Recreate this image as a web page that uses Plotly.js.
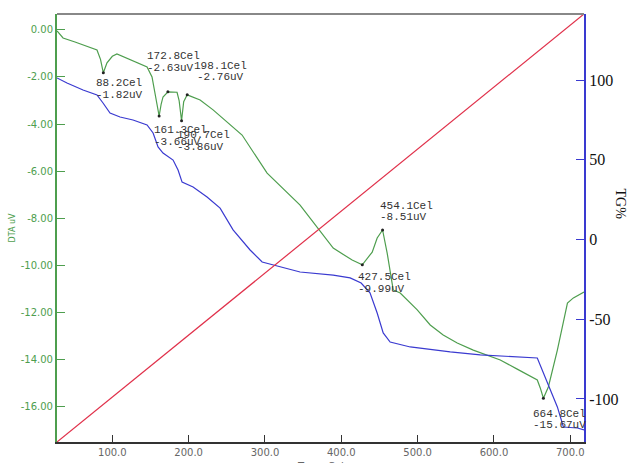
<!DOCTYPE html>
<html><head><meta charset="utf-8">
<script src="https://cdn.plot.ly/plotly-3.0.1.min.js"></script>
<style>html,body{margin:0;padding:0;background:#fff}#chart{width:627px;height:463px}</style>
</head><body><div id="chart"></div>
<script>
// DTA curve (green, left axis, uV)
const dtaTemp = [27.5, 35.4, 51.1, 70.8, 79.9, 84.5, 88.2, 93, 100, 106, 120.6, 145.5, 152, 157, 161.3, 164, 166.4, 172.8, 184.8, 187.5, 190.7, 193.5, 198.1, 215, 232, 270, 302.8, 346, 368.4, 389.4, 414.2, 427.5, 440.5, 447, 454.1, 460.1, 468, 477.2, 499.5, 516.5, 533.5, 551.9, 572.9, 595.2, 608.3, 630.5, 656.8, 660.7, 664.8, 671.3, 683.1, 696.3, 704.1, 718];
const dtaVal = [-0.04, -0.34, -0.51, -0.72, -0.85, -1.25, -1.82, -1.40, -1.12, -1.02, -1.23, -1.57, -2.0, -3.0, -3.66, -3.15, -2.85, -2.63, -2.65, -3.0, -3.86, -3.05, -2.76, -2.98, -3.40, -4.47, -6.09, -7.45, -8.38, -9.28, -9.79, -9.99, -9.45, -8.85, -8.51, -9.49, -11.06, -11.19, -11.91, -12.55, -12.98, -13.32, -13.62, -13.87, -14.04, -14.43, -14.89, -15.23, -15.67, -15.19, -13.62, -11.62, -11.40, -11.15];

// TG curve (blue, right axis, %)
const tgTemp = [27.5, 40.6, 61.6, 79.9, 87.8, 97, 110.1, 127.1, 145.5, 153.4, 159.9, 166.4, 179.6, 186.1, 191.4, 205.8, 224.1, 241.2, 258.2, 280.5, 296.3, 326.4, 346, 389.4, 411.6, 426, 437.6, 447, 454.9, 464, 490.3, 542.7, 582, 656.8, 670, 683.1, 691, 709.4, 718];
const tgVal = [101.3, 98.1, 93.7, 90.6, 85.6, 79.3, 76.8, 74.9, 71.8, 66.8, 58.0, 54.2, 49.8, 43.6, 36.0, 32.9, 26.6, 19.7, 6.0, -6.6, -14.1, -17.9, -20.4, -22.3, -24.1, -27.3, -33.5, -46.1, -58.6, -64.3, -67.4, -70.5, -72.4, -74.3, -90.0, -105.0, -117.6, -118.2, -119.4];

// Temperature ramp (red diagonal)
const rampX = [27.5, 718];
const rampY = [27.5, 718];

// Marked DTA peaks
const peakTemp = [88.2, 172.8, 198.1, 161.3, 190.7, 454.1, 427.5, 664.8];
const peakVal = [-1.82, -2.63, -2.76, -3.66, -3.86, -8.51, -9.99, -15.67];

// Tick labels
const tempTicks = [100, 200, 300, 400, 500, 600, 700];
const tempTickText = ["100.0", "200.0", "300.0", "400.0", "500.0", "600.0", "700.0"];
const dtaTicks = [0, -2, -4, -6, -8, -10, -12, -14, -16];
const dtaTickText = ["0.00", "-2.00", "-4.00", "-6.00", "-8.00", "-10.00", "-12.00", "-14.00", "-16.00"];
const tgTicks = [100, 50, 0, -50, -100];
const tgTickText = ["100", "50", "0", "-50", "-100"];

// label placement (pixel offsets: [xshift, yshift line1, yshift line2, extra x for line2])
const labelOffsets = [[-7, -10, -22, 0], [-21, 36, 24, 0], [7, 29, 18, 3], [-5, -14, -26, 0], [-5, -14, -26, 0], [-3, 24, 13, 0], [-4, -12, -24, 0], [-10, -16, -27, 0]];

const GREEN = '#4e9e4e', BLUE = '#3a3ad0', RED = '#e0304a';
const XR = [27.5, 718];

const traces = [
  {x: rampX, y: rampY, yaxis: 'y3', mode: 'lines', line: {color: RED, width: 1.2}, hoverinfo: 'skip'},
  {x: tgTemp, y: tgVal, yaxis: 'y2', mode: 'lines', line: {color: BLUE, width: 1.2}},
  {x: dtaTemp, y: dtaVal, mode: 'lines', line: {color: GREEN, width: 1.2}},
  {x: peakTemp, y: peakVal, mode: 'markers', marker: {color: '#222', size: 3}}
];

const annotations = [];
peakTemp.forEach((t, i) => {
  const o = labelOffsets[i];
  const f = {family: 'Liberation Mono, monospace', size: 11, color: '#333'};
  annotations.push({x: t, y: peakVal[i], xref: 'x', yref: 'y', text: t.toFixed(1) + 'Cel', showarrow: false,
    xanchor: 'left', yanchor: 'middle', xshift: o[0], yshift: o[1], font: f, borderpad: 0, borderwidth: 0});
  annotations.push({x: t, y: peakVal[i], xref: 'x', yref: 'y', text: peakVal[i].toFixed(2) + 'uV', showarrow: false,
    xanchor: 'left', yanchor: 'middle', xshift: o[0] + o[3], yshift: o[2], font: f, borderpad: 0, borderwidth: 0});
});
annotations.push({xref: 'paper', yref: 'paper', x: 1.07, y: 0.555, text: 'TG%', textangle: 90, showarrow: false,
  xanchor: 'center', yanchor: 'middle', font: {family: 'Liberation Serif, serif', size: 14, color: '#111'}});
annotations.push({xref: 'paper', yref: 'paper', x: 0.5, y: 0, text: 'Temp Cel', showarrow: false,
  xanchor: 'center', yanchor: 'top', yshift: -17, font: {family: 'DejaVu Sans, sans-serif', size: 10, color: '#666'}});

const layout = {
  width: 627, height: 463,
  margin: {l: 57, r: 43, t: 14, b: 21, pad: 0},
  paper_bgcolor: '#fff', plot_bgcolor: '#fff',
  showlegend: false,
  xaxis: {range: XR, tickvals: tempTicks, ticktext: tempTickText, ticks: 'inside', ticklen: 7, tickwidth: 1, tickcolor: '#333',
    showline: true, linecolor: '#333', linewidth: 2, showgrid: false, zeroline: false,
    tickfont: {family: 'DejaVu Sans, sans-serif', size: 10, color: '#666'}},
  yaxis: {range: [-17.53, 0.68], tickvals: dtaTicks, ticktext: dtaTickText, ticks: 'inside', ticklen: 8, tickwidth: 1, tickcolor: GREEN,
    showline: true, linecolor: GREEN, linewidth: 2, showgrid: false, zeroline: false,
    tickfont: {family: 'DejaVu Sans, sans-serif', size: 10, color: GREEN},
    title: {text: 'DTA uV', standoff: 4, font: {family: 'DejaVu Sans, sans-serif', size: 8, color: GREEN}}},
  yaxis2: {range: [-127, 141.4], overlaying: 'y', side: 'right', tickvals: tgTicks, ticktext: tgTickText, ticks: 'inside', ticklen: 8, tickwidth: 1,
    tickcolor: BLUE, showline: true, linecolor: BLUE, linewidth: 2, showgrid: false, zeroline: false,
    tickfont: {family: 'Liberation Serif, serif', size: 16, color: '#111'}},
  yaxis3: {range: XR, overlaying: 'y', visible: false, showgrid: false, zeroline: false},
  shapes: [{type: 'line', xref: 'paper', yref: 'paper', x0: 0, x1: 1, y0: 1, y1: 1, line: {color: '#888', width: 2}}],
  annotations: annotations
};

Plotly.newPlot('chart', traces, layout, {staticPlot: true, displayModeBar: false});
</script></body></html>
